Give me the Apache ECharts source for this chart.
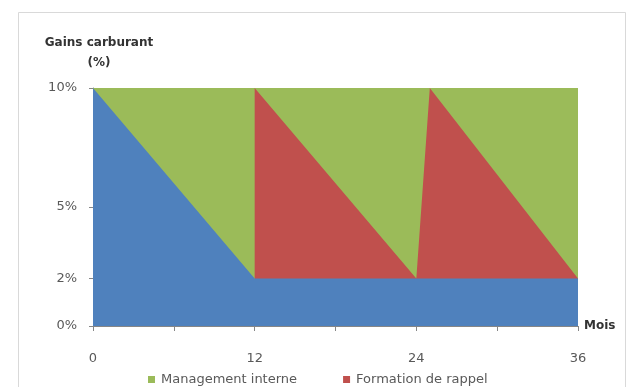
<!DOCTYPE html>
<html>
<head>
<meta charset="utf-8">
<script src="https://cdn.jsdelivr.net/npm/echarts@6/dist/echarts.min.js"></script>
<style>
  html, body { margin: 0; padding: 0; background: #fff; }
  #chart { width: 632px; height: 387px; }
</style>
</head>
<body>
<div id="chart"></div>
<script>
// Gains carburant (%) sur 36 mois
const xTickValues = [0, 6, 12, 18, 24, 30, 36];
const xLabelValues = [0, 12, 24, 36];
const yTickValues = [0, 2, 5, 10];

// Gain de base (bleu)
const baseMonths = [0, 12, 36];
const baseValues = [10, 2, 2];

// Formation de rappel (rouge) : sommet cumulé
const rappelMonths = [12, 24, 25, 36];
const rappelValues = [10, 2, 10, 2];

// Management interne (vert) : plafond
const managementMonths = [0, 36];
const managementValues = [10, 10];

const zip = (xs, ys) => xs.map((x, i) => [x, ys[i]]);

const FONT = 'DejaVu Sans';
const GREY = '#595959';
const AXIS = '#868686';

const areaSeries = (name, months, values, color, z) => ({
  name,
  type: 'line',
  data: zip(months, values),
  symbol: 'none',
  z,
  itemStyle: { color },
  lineStyle: { width: 0, opacity: 0 },
  areaStyle: { color, opacity: 1 },
  silent: true
});

const chart = echarts.init(document.getElementById('chart'), null, { renderer: 'canvas' });
chart.setOption({
  animation: false,
  backgroundColor: '#fff',
  textStyle: { fontFamily: FONT },
  graphic: [{
    type: 'rect',
    shape: { x: 18.5, y: 12.5, width: 607, height: 400 },
    style: { fill: 'none', stroke: '#d9d9d9', lineWidth: 1 },
    silent: true, z: -10
  }],
  grid: { left: 93, right: 54, top: 88, bottom: 61, containLabel: false },
  legend: {
    data: ['Management interne', 'Formation de rappel'],
    left: 143,
    top: 368,
    icon: 'rect',
    itemWidth: 7,
    itemHeight: 7,
    itemGap: 46,
    textStyle: { fontFamily: FONT, fontSize: 13, color: GREY, padding: [0, 0, 0, 1] }
  },
  xAxis: {
    type: 'value',
    min: 0,
    max: 36,
    interval: 6,
    name: 'Mois',
    nameLocation: 'end',
    nameGap: 6,
    nameTextStyle: { fontFamily: FONT, fontWeight: 'bold', fontSize: 12, color: '#333', padding: [12, 0, 0, 0] },
    axisLine: { lineStyle: { color: AXIS } },
    axisTick: { show: true, length: 5, lineStyle: { color: AXIS }, customValues: xTickValues },
    axisLabel: { customValues: xLabelValues, margin: 26, fontSize: 13, color: GREY, fontFamily: FONT },
    splitLine: { show: false }
  },
  yAxis: {
    type: 'value',
    min: 0,
    max: 10,
    name: 'Gains carburant\n(%)',
    nameLocation: 'end',
    nameGap: 15,
    nameTextStyle: {
      fontFamily: FONT, fontWeight: 'bold', fontSize: 12, color: '#333',
      align: 'center', lineHeight: 20, padding: [0, 0, 0, 12]
    },
    axisLine: { show: true, lineStyle: { color: AXIS } },
    axisTick: { show: true, length: 4, lineStyle: { color: AXIS }, customValues: yTickValues },
    axisLabel: {
      customValues: yTickValues, margin: 16, fontSize: 13, color: GREY, fontFamily: FONT,
      formatter: v => v + '%'
    },
    splitLine: { show: false }
  },
  series: [
    areaSeries('Management interne', managementMonths, managementValues, '#9BBB59', 1),
    areaSeries('Formation de rappel', rappelMonths, rappelValues, '#C0504D', 2),
    areaSeries('Base', baseMonths, baseValues, '#4F81BD', 3)
  ]
});
</script>
</body>
</html>
